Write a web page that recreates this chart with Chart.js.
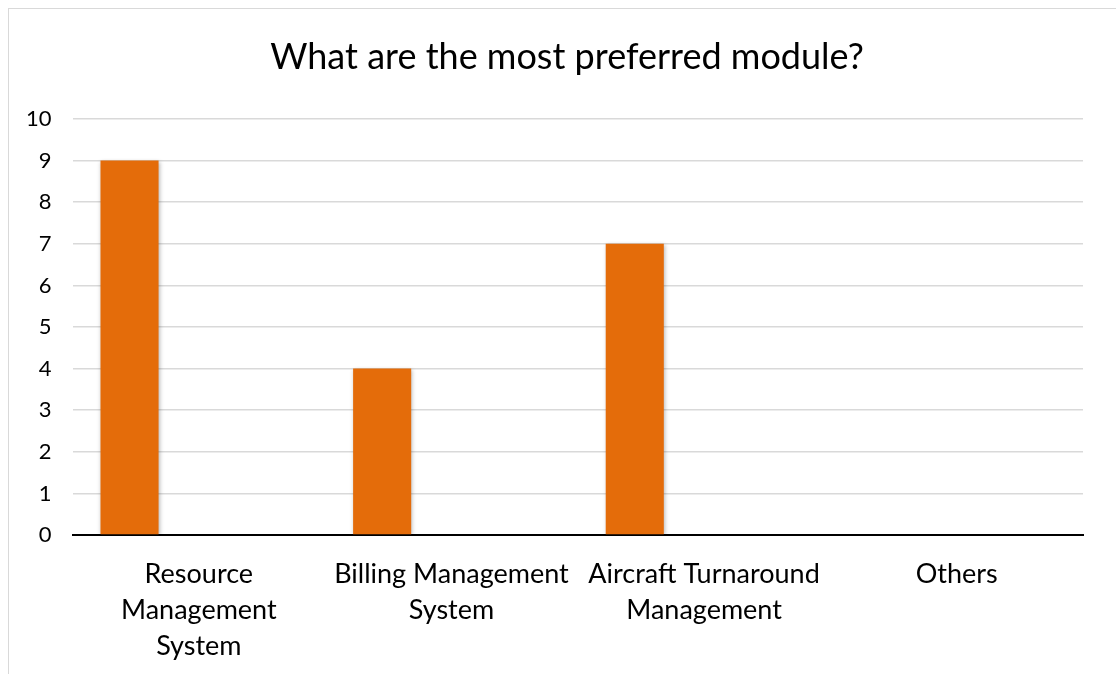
<!DOCTYPE html>
<html>
<head>
<meta charset="utf-8">
<title>Preferred module</title>
<script src="https://cdn.jsdelivr.net/npm/chart.js@4.4.1/dist/chart.umd.min.js"></script>
<style>
    html, body { margin: 0; padding: 0; background: #fff; overflow: hidden; }
    #frame {
        position: absolute; left: 8px; top: 8px;
        width: 1200px; height: 800px;
        border: 1px solid #d9d9d9;
    }
    #wrap { position: absolute; left: 0; top: 0; width: 1116px; height: 677px; }
    #chartTitle {
        position: absolute; left: 0; top: 34px; width: 1134px;
        text-align: center; white-space: nowrap;
        font: normal 36px/1.2 Lato, Calibri, Carlito, sans-serif;
        color: #000;
    }
</style>
</head>
<body>
<div id="frame"></div>
<div id="wrap"><canvas id="moduleChart"></canvas></div>
<div id="chartTitle">What are the most preferred module?</div>
<script>
// Survey answers
const modules = [
    ['Resource', 'Management', 'System'],
    ['Billing Management', 'System'],
    ['Aircraft Turnaround', 'Management'],
    'Others'
];
const votes = [9, 4, 7, 0];
// the sheet had two more (empty) columns next to the votes
const emptyA = [null, null, null, null];
const emptyB = [null, null, null, null];
const yTicks = { min: 0, max: 10, step: 1 };

const ORANGE = '#e46c0a';
const FONT = 'Lato, Calibri, Carlito, sans-serif';

// soft drop shadow under the bars
const barShadow = {
    id: 'barShadow',
    beforeDatasetsDraw(chart) {
        const ctx = chart.ctx;
        ctx.save();
        ctx.shadowColor = 'rgba(0,0,0,0.28)';
        ctx.shadowBlur = 4;
        ctx.shadowOffsetX = 1;
        ctx.shadowOffsetY = 1;
    },
    afterDatasetsDraw(chart) {
        chart.ctx.restore();
    }
};

new Chart(document.getElementById('moduleChart'), {
    type: 'bar',
    data: {
        labels: modules,
        datasets: [
            { label: 'Votes', data: votes, backgroundColor: ORANGE, borderWidth: 0 },
            { label: 'Column 2', data: emptyA, backgroundColor: '#a5a5a5', borderWidth: 0 },
            { label: 'Column 3', data: emptyB, backgroundColor: '#ffc000', borderWidth: 0 }
        ]
    },
    options: {
        responsive: true,
        maintainAspectRatio: false,
        animation: false,
        categoryPercentage: 0.823,
        barPercentage: 0.838,
        layout: {
            // top room is left for the HTML title above the canvas
            padding: { left: 5, right: 33, top: 119, bottom: 0 }
        },
        plugins: {
            legend: { display: false },
            tooltip: { enabled: false },
            title: { display: false }
        },
        scales: {
            x: {
                grid: { display: false },
                border: { display: true, color: '#000', width: 2 },
                ticks: {
                    color: '#000',
                    autoSkip: false,
                    maxRotation: 0,
                    padding: 13,
                    font: { family: FONT, size: 27, lineHeight: 1.333 }
                }
            },
            y: {
                min: yTicks.min,
                max: yTicks.max,
                border: { display: false },
                grid: { color: '#d9d9d9', lineWidth: 1.5, drawTicks: false },
                ticks: {
                    stepSize: yTicks.step,
                    color: '#000',
                    padding: 21,
                    font: { family: FONT, size: 22 }
                }
            }
        }
    },
    plugins: [barShadow]
});
</script>
</body>
</html>
